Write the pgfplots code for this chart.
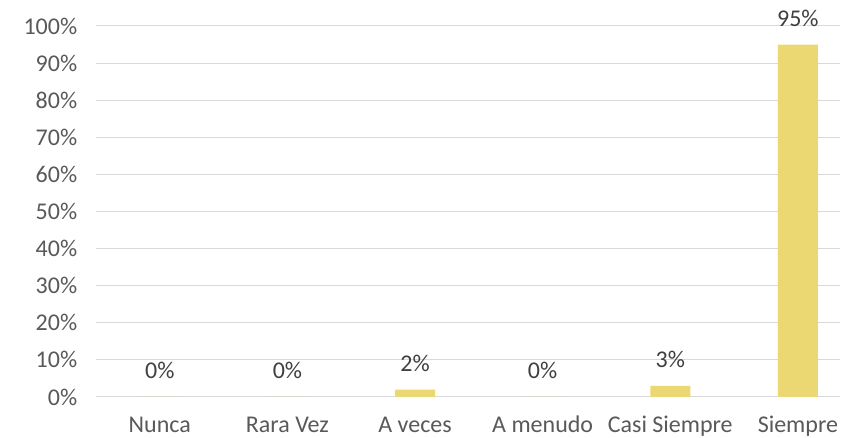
\documentclass[border=0pt]{standalone}
\usepackage{pgfplots}
\pgfplotsset{compat=1.18}
\usepackage{fontspec}
\setmainfont{Carlito}
\definecolor{barcol}{RGB}{235,216,115}
\definecolor{tickcol}{RGB}{89,89,89}
\definecolor{valcol}{RGB}{64,64,64}
\definecolor{gridcol}{RGB}{217,217,217}
\begin{document}
\begin{tikzpicture}
\useasboundingbox (0,0) rectangle (841pt,438pt);
\begin{axis}[
  at={(96pt,41pt)}, anchor=south west,
  scale only axis, width=744pt, height=371pt,
  xmin=-0.5, xmax=5.33, ymin=0, ymax=100,
  clip=false,
  axis line style={draw=none},
  ytick={0,10,...,100},
  ymajorgrids, major grid style={gridcol, line width=1pt},
  xtick={0,...,5},
  xticklabels={Nunca,Rara Vez,A veces,A menudo,Casi Siempre,Siempre},
  tick style={draw=none},
  /pgf/number format/assume math mode=true,
  ticklabel style={font=\fontsize{24}{29}\selectfont, text=tickcol},
  yticklabel={\pgfmathprintnumber{\tick}\%},
  yticklabel style={anchor=east, xshift=-15.3pt},
  xticklabel style={anchor=base, yshift=-31pt},
  ybar, bar width=40pt,
  nodes near coords={\pgfmathprintnumber{\pgfplotspointmeta}\%},
  nodes near coords style={font=\fontsize{24}{29}\selectfont, text=valcol, anchor=base, yshift=18pt, /pgf/number format/assume math mode=true},
]
\addplot[fill=barcol, draw=none] coordinates {(0,0) (1,0) (2,2) (3,0) (4,3) (5,95)};
\end{axis}
\end{tikzpicture}
\end{document}
